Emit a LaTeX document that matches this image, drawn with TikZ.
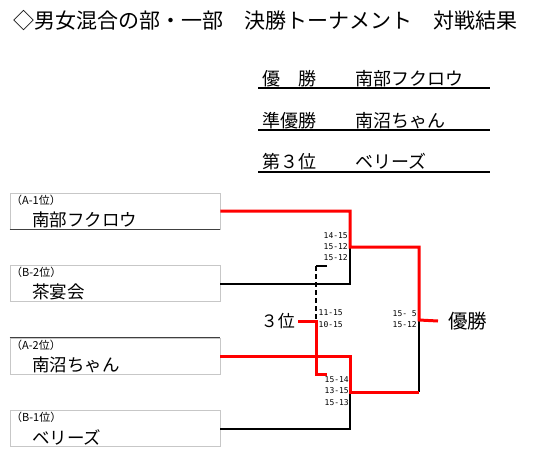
\documentclass[tikz,border=0pt]{standalone}
\usepackage{fontspec}
\setmainfont{Noto Sans CJK JP}
\newfontfamily\scorefont{DejaVu Sans Mono}
\begin{document}
\begin{tikzpicture}[x=1pt,y=-1pt,
 box/.style={draw=black!22, line width=0.8pt, minimum width=210pt, minimum height=36pt, inner sep=0pt},
 lbl/.style={anchor=west, font=\fontsize{11}{11}\selectfont, inner sep=0pt},
 nm/.style={anchor=west, font=\fontsize{17.5}{18}\selectfont, inner sep=0pt},
 win/.style={draw=red, line width=3pt, line join=miter},
 lose/.style={draw=black, line width=2pt, line join=miter},
 sc/.style={anchor=east, font=\scorefont\fontsize{8}{8}\selectfont, inner sep=0pt},
 res/.style={anchor=base west, font=\fontsize{18}{18}\selectfont, inner sep=0pt},
 uline/.style={draw=black, line width=1.2pt}
]
\useasboundingbox (0,0) rectangle (560,472);
% title
\node[anchor=base west, inner sep=0pt, font=\fontsize{21}{21}\selectfont] (title) at (13,28) {◇男女混合の部・一部　決勝トーナメント　対戦結果};
% results
\node[res] (r1a) at (262,85) {優　勝};
\node[res] (r1b) at (355,85) {南部フクロウ};
\node[res] (r2a) at (262,127) {準優勝};
\node[res] (r2b) at (355,127) {南沼ちゃん};
\node[res] (r3a) at (262,168) {第３位};
\node[res] (r3b) at (355,168) {ベリーズ};
\coordinate (u1a) at (258,88); \coordinate (u1b) at (490,88);
\coordinate (u2a) at (258,130); \coordinate (u2b) at (490,130);
\coordinate (u3a) at (258,172); \coordinate (u3b) at (490,172);
\draw[uline] (u1a) -- (u1b);
\draw[uline] (u2a) -- (u2b);
\draw[uline] (u3a) -- (u3b);
% boxes
\node[box] (t1) at (115,211) {};
\node[box] (t2) at (115,283.5) {};
\node[box] (t3) at (115,356) {};
\node[box] (t4) at (115,428.5) {};
\draw[black!75, line width=1pt] (t1.south west) -- (t1.south east);
\draw[black!75, line width=1pt] (t3.north west) -- (t3.north east);
\node[lbl] (l1) at (11,200) {（A-1位）};
\node[nm] (n1) at (32,220) {南部フクロウ};
\node[lbl] (l2) at (11,272) {（B-2位）};
\node[nm] (n2) at (32,292) {茶宴会};
\node[lbl] (l3) at (11,345) {（A-2位）};
\node[nm] (n3) at (32,365) {南沼ちゃん};
\node[lbl] (l4) at (11,417) {（B-1位）};
\node[nm] (n4) at (32,437) {ベリーズ};
% bracket coordinates
\coordinate (s1) at (350,247);
\coordinate (s2) at (350,392);
\coordinate (f) at (419,320);
\coordinate (d1) at (316,266);
\coordinate (d1e) at (327,266);
\coordinate (d2) at (316,319);
\coordinate (b3e) at (327,374);
% labels
\node[anchor=east, inner sep=0pt, font=\fontsize{17}{17}\selectfont] (third) at (295,321) {３位};
\node[anchor=west, inner sep=0pt, font=\fontsize{19.5}{20}\selectfont] (champ) at (448,321) {優勝};
% black (losing) lines
\draw[lose] (t2.east) -| (s1);
\draw[lose] (t4.east) -| (s2);
\draw[lose] (s2 -| f) -- (f);
\draw[lose] (d1e) -- (d1);
\draw[lose, dash pattern=on 5pt off 3pt] (d1) -- (d2);
% red (winning) lines
\draw[win] (t1.east) -| (s1) -| (f) -- (champ.west -| 438,0);
\draw[win] (t3.east) -| (s2) -- (s2 -| f);
\draw[win] (third.east) ++(3,0) -| (316,374) -- (b3e);
% scores
\node[sc] (sa1) at (348,236) {14-15};
\node[sc] (sa2) at (348,247) {15-12};
\node[sc] (sa3) at (348,258) {15-12};
\node[sc] (sb1) at (343,313) {11-15};
\node[sc] (sb2) at (343,325) {10-15};
\node[sc] (sc1) at (349,380) {15-14};
\node[sc] (sc2) at (349,391) {13-15};
\node[sc] (sc3) at (349,403) {15-13};
\node[sc] (sd1) at (417,314) {15-\ 5};
\node[sc] (sd2) at (417,325) {15-12};
\end{tikzpicture}
\end{document}
